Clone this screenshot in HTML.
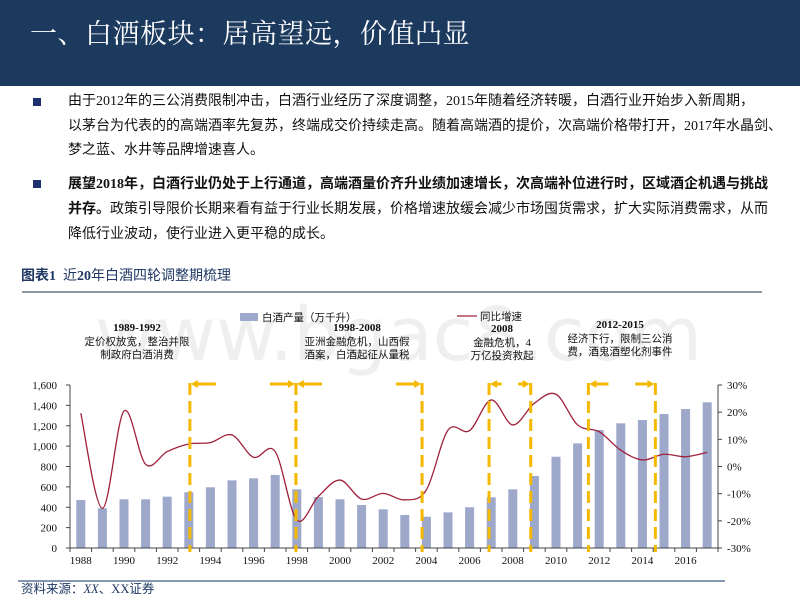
<!DOCTYPE html>
<html><head><meta charset="utf-8">
<style>
body{margin:0;width:800px;height:600px;overflow:hidden;background:#fff;font-family:"Liberation Serif","Noto Serif CJK SC","Noto Sans CJK SC",serif;position:relative}
.hdr{position:absolute;left:0;top:0;width:800px;height:86px;background:#1c395e}
.title{position:absolute;left:30px;top:12px;color:#fff;font-size:27px;font-family:"Liberation Serif","Noto Serif CJK SC",serif;letter-spacing:0.5px}
.p{position:absolute;left:68px;font-size:14px;line-height:24.5px;color:#111;width:720px;font-family:"Liberation Serif","Noto Sans CJK SC",sans-serif}
.bul{position:absolute;left:33px;width:8px;height:8px;background:#1c2f6e}
.cap{position:absolute;left:21px;top:265px;font-size:14px;color:#1f3864;font-family:"Liberation Serif","Noto Sans CJK SC",sans-serif}
svg text{font-family:"Liberation Serif","Noto Sans CJK SC",serif}
</style></head><body>
<div class="hdr"><div class="title">一、白酒板块：居高望远，价值凸显</div></div>
<div class="bul" style="top:98px"></div>
<div class="p" style="top:90px">由于2012年的三公消费限制冲击，白酒行业经历了深度调整，2015年随着经济转暖，白酒行业开始步入新周期，<br>以茅台为代表的的高端酒率先复苏，终端成交价持续走高。随着高端酒的提价，次高端价格带打开，2017年水晶剑、<br>梦之蓝、水井等品牌增速喜人。</div>
<div class="bul" style="top:180px"></div>
<div class="p" style="top:172px;line-height:25px"><b>展望2018年，白酒行业仍处于上行通道，高端酒量价齐升业绩加速增长，次高端补位进行时，区域酒企机遇与挑战<br>并存。</b>政策引导限价长期来看有益于行业长期发展，价格增速放缓会减少市场囤货需求，扩大实际消费需求，从而<br>降低行业波动，使行业进入更平稳的成长。</div>
<div class="cap"><b>图表1</b>&nbsp; 近<b>20</b>年白酒四轮调整期梳理</div>
<svg id="c" width="800" height="600" style="position:absolute;left:0;top:0"></svg>
<script>
const years=[1988,1989,1990,1991,1992,1993,1994,1995,1996,1997,1998,1999,2000,2001,2002,2003,2004,2005,2006,2007,2008,2009,2010,2011,2012,2013,2014,2015,2016,2017];
const production=[471,390,478,478,504,547,596,664,684,717,576,500,478,422,380,324,307,350,400,498,576,707,896,1027,1158,1224,1256,1315,1364,1430];
const growth=[19.6,-15.4,20.4,0.8,5.5,8.3,8.8,11.6,3.4,5.5,-19.7,-11,-5,-12,-9.9,-12.3,-8.6,13.4,13.2,24.5,15.3,23.3,26.6,15.3,12.8,6,2.4,4.5,3.6,5.2];
const leftTicks=[0,200,400,600,800,1000,1200,1400,1600];
const leftTickLabels=["0","200","400","600","800","1,000","1,200","1,400","1,600"];
const rightTicks=[-30,-20,-10,0,10,20,30];
const xLabelYears=[1988,1990,1992,1994,1996,1998,2000,2002,2004,2006,2008,2010,2012,2014,2016];
const periodBounds=[[1993.55,1998.46],[1998.46,2004.3],[2007.4,2009.33],[2012.0,2015.1]];
const periodTitles=["1989-1992","1998-2008","2008","2012-2015"];

const svg=document.getElementById('c');const NS='http://www.w3.org/2000/svg';
const X0=70,X1=718,Y0=548,Y1=385;
const band=(X1-X0)/years.length;
const xc=y=>X0+(y-years[0]+0.5)*band;
const yl=v=>Y0-(v/1600)*(Y0-Y1);
const yr=v=>Y0-((v+30)/60)*(Y0-Y1);
function el(t,a,p){const e=document.createElementNS(NS,t);for(const k in a)e.setAttribute(k,a[k]);(p||svg).appendChild(e);return e;}
function txt(x,y,s,a){const e=el('text',Object.assign({x:x,y:y,'font-size':11,fill:'#111'},a||{}));e.textContent=s;return e;}

// watermark
const wm=txt(95,360,'www.bgac8.com',{'font-size':74,fill:'#efefef',style:'font-family:"DejaVu Sans",sans-serif'});



// bars
years.forEach((y,i)=>{const b=el('rect',{x:xc(y)-4.5,y:yl(production[i]),width:9,height:Y0-yl(production[i]),fill:'#9ea8cb'});

});

// axes
el('line',{x1:X0,y1:Y1,x2:X0,y2:Y0,stroke:'#444'});
el('line',{x1:X1,y1:Y1,x2:X1,y2:Y0,stroke:'#444'});
el('line',{x1:X0,y1:Y0,x2:X1,y2:Y0,stroke:'#444'});
leftTicks.forEach((v,i)=>{el('line',{x1:X0-4,y1:yl(v),x2:X0,y2:yl(v),stroke:'#444'});
const t=txt(57,yl(v)+4,leftTickLabels[i],{'text-anchor':'end'});

});
rightTicks.forEach(v=>{el('line',{x1:X1,y1:yr(v),x2:X1+4,y2:yr(v),stroke:'#444'});
const t=txt(727,yr(v)+4,v+'%');

});
for(let i=0;i<=years.length;i++)el('line',{x1:X0+i*band,y1:Y0,x2:X0+i*band,y2:Y0+4,stroke:'#444'});
xLabelYears.forEach(y=>{const t=txt(xc(y),564,y,{'text-anchor':'middle'});

});

// growth line (catmull-rom)
const pts=years.map((y,i)=>[xc(y),yr(growth[i])]);
let d='M'+pts[0][0]+','+pts[0][1];
for(let i=0;i<pts.length-1;i++){const p0=pts[i-1]||pts[i],p1=pts[i],p2=pts[i+1],p3=pts[i+2]||p2;
d+=` C${p1[0]+(p2[0]-p0[0])/6},${p1[1]+(p2[1]-p0[1])/6} ${p2[0]-(p3[0]-p1[0])/6},${p2[1]-(p3[1]-p1[1])/6} ${p2[0]},${p2[1]}`;}
const ln=el('path',{d:d,fill:'none',stroke:'#a0203a','stroke-width':1.3});



// periods
const OR='#f5b800';
const xf=v=>X0+(v-years[0])*band;
periodBounds.forEach((pb,i)=>{
 const a=xf(pb[0]),b=xf(pb[1]);
 [a,b].forEach(x=>{const v=el('line',{x1:x,y1:383,x2:x,y2:552,stroke:OR,'stroke-width':3,'stroke-dasharray':'12,6'});
 
 });
 const w=b-a,al=Math.min(26,w*0.3),ay=384;
 el('line',{x1:a+4,y1:ay,x2:a+al,y2:ay,stroke:OR,'stroke-width':3});
 el('path',{d:`M${a+1},${ay} l7,-4 v8z`,fill:OR});
 el('line',{x1:b-al,y1:ay,x2:b-4,y2:ay,stroke:OR,'stroke-width':3});
 el('path',{d:`M${b-1},${ay} l-7,-4 v8z`,fill:OR});
});
// annotations
const ann=[[137,331,periodTitles[0],['定价权放宽，整治并限','制政府白酒消费']],
[357,331,periodTitles[1],['亚洲金融危机，山西假','酒案，白酒起征从量税']],
[502,332,periodTitles[2],['金融危机，4','万亿投资救起']],
[620,328,periodTitles[3],['经济下行，限制三公消','费，酒鬼酒塑化剂事件']]];
ann.forEach(a=>{const t=txt(a[0],a[1],a[2],{'text-anchor':'middle','font-weight':'bold','font-family':'Liberation Sans, sans-serif'});


a[3].forEach((s,j)=>{const u=txt(a[0],a[1]+14+j*13,s,{'text-anchor':'middle','font-size':10.5});

});});

// legend
el('rect',{x:240,y:313,width:18,height:8,fill:'#9ea8cb'});
const l1=txt(262,321,'白酒产量（万千升）',{'font-size':10.5});


el('line',{x1:457,y1:316,x2:477,y2:316,stroke:'#a0203a','stroke-width':1.3});
const l2=txt(480,320,'同比增速',{'font-size':10.5});



// rules + source
el('rect',{x:22,y:291,width:740,height:2,fill:'#8d99a6'});
el('rect',{x:18,y:580,width:707,height:2,fill:'#8496b0'});
const src=txt(21,593,'资料来源：',{'font-size':12.5,fill:'#1f3864'});


const ts=el('tspan',{'font-style':'italic'},src);ts.textContent='XX';
const ts2=el('tspan',{},src);ts2.textContent='、XX证券';
</script>
</body></html>
